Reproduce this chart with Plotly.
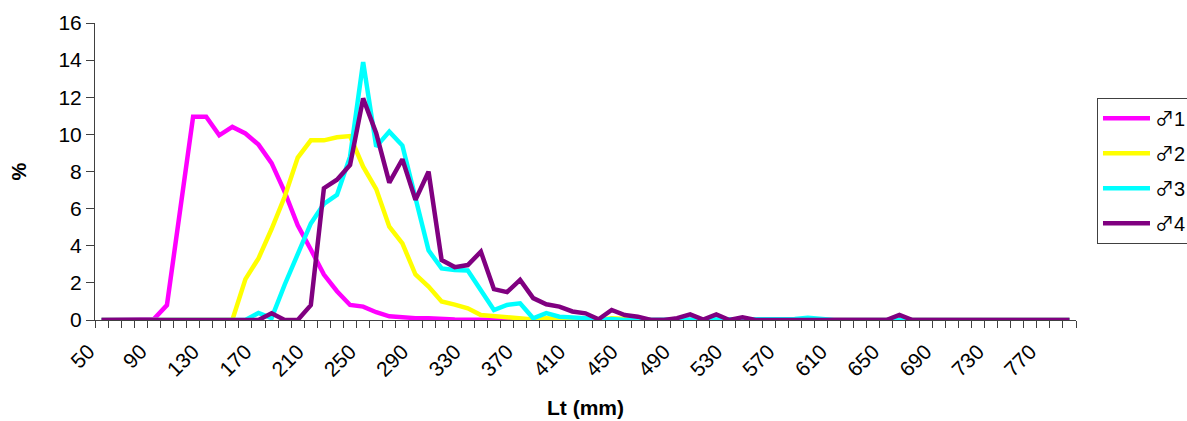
import plotly.graph_objects as go

# Length classes (mm), 50 .. 790 step 10
lengths = list(range(50, 800, 10))

m1 = [0, 0, 0, 0, 0.05, 0.8, 5.9, 10.95, 10.95, 9.95,
      10.4, 10.05, 9.45, 8.45, 6.9, 5.1, 3.8, 2.45, 1.55, 0.81,
      0.72, 0.42, 0.2, 0.12, 0.1, 0.1, 0.05, 0.03, 0.02, 0.02,
      0.02, 0.02, 0.02, 0.01, 0, 0, 0, 0, 0, 0,
      0, 0, 0, 0, 0, 0, 0, 0, 0, 0,
      0, 0, 0, 0, 0, 0, 0, 0, 0, 0,
      0, 0, 0, 0, 0, 0, 0, 0, 0, 0,
      0, 0, 0, 0, 0]

m2 = [0, 0, 0, 0, 0, 0, 0, 0, 0, 0,
      0, 2.2, 3.32, 4.9, 6.64, 8.75, 9.68, 9.68, 9.84, 9.91,
      8.26, 7.05, 5.03, 4.13, 2.45, 1.8, 1.0, 0.83, 0.63, 0.27,
      0.22, 0.12, 0.12, 0.03, 0.1, 0.02, 0, 0, 0, 0.1,
      0.05, 0, 0, 0, 0, 0, 0, 0, 0, 0,
      0, 0, 0, 0, 0, 0, 0, 0, 0, 0,
      0, 0, 0, 0, 0, 0, 0, 0, 0, 0,
      0, 0, 0, 0, 0]

m3 = [0, 0, 0, 0, 0, 0, 0, 0, 0, 0,
      0, 0, 0.38, 0.1, 1.9, 3.5, 5.2, 6.25, 6.74, 8.8,
      13.9, 9.34, 10.15, 9.4, 6.6, 3.75, 2.78, 2.69, 2.67, 1.62,
      0.54, 0.81, 0.9, 0.09, 0.37, 0.18, 0.16, 0.1, 0, 0.05,
      0, 0, 0, 0, 0, 0.05, 0, 0.05, 0, 0,
      0, 0, 0, 0.05, 0.12, 0.05, 0, 0, 0, 0,
      0, 0.05, 0, 0, 0, 0, 0, 0, 0, 0,
      0, 0, 0, 0, 0]

m4 = [0, 0, 0, 0, 0, 0, 0, 0, 0, 0,
      0, 0, 0, 0.36, 0, 0, 0.8, 7.1, 7.56, 8.35,
      11.94, 10.06, 7.4, 8.66, 6.47, 7.99, 3.23, 2.85, 2.96, 3.68,
      1.66, 1.5, 2.16, 1.18, 0.85, 0.72, 0.46, 0.36, 0.04, 0.54,
      0.27, 0.18, 0, 0, 0.1, 0.3, 0.02, 0.3, 0, 0.15,
      0, 0, 0, 0, 0, 0, 0, 0, 0, 0,
      0, 0.27, 0, 0, 0, 0, 0, 0, 0, 0,
      0, 0, 0, 0, 0]

series_numbers = ["1", "2", "3", "4"]
series_values = [m1, m2, m3, m4]
series_colors = ["#FF00FF", "#FFFF00", "#00FFFF", "#800080"]

tick_values = list(range(50, 780, 40))
tick_labels = [str(v) for v in tick_values]

MALE = "<span style='font-family:Noto Sans CJK JP;font-size:19px'>♂</span>"

fig = go.Figure()
for i, (num, vals, col) in enumerate(zip(series_numbers, series_values, series_colors)):
    fig.add_trace(go.Scatter(
        x=lengths, y=vals, name=MALE + num, mode="lines",
        line=dict(color=col, width=4.5),
        legendgroup=f"g{i}",
    ))

FONT = "Liberation Sans, Arial, DejaVu Sans, sans-serif"
fig.update_layout(
    width=1187, height=421,
    margin=dict(l=95, r=111, t=23, b=101, autoexpand=False),
    paper_bgcolor="white", plot_bgcolor="white",
    font=dict(family=FONT, size=21, color="black"),
    showlegend=True,
    legend=dict(
        x=1.0214, y=0.748, xanchor="left", yanchor="top",
        bordercolor="#404040", borderwidth=1, bgcolor="white",
        font=dict(size=20, family=FONT),
        tracegroupgap=6, itemwidth=47,
    ),
    xaxis=dict(
        range=[45, 795], showgrid=False, zeroline=False,
        showline=True, linecolor="#404040", linewidth=1,
        tickmode="array", tickvals=tick_values, ticktext=tick_labels,
        ticks="", tickangle=-45, ticklabelshift=-13, ticklabelstandoff=10,
        tickfont=dict(size=21, family=FONT),
        minor=dict(tickmode="linear", tick0=45, dtick=10, ticks="outside",
                   ticklen=7, tickcolor="#404040", tickwidth=1, showgrid=False),
        title=dict(text="<b>Lt (mm)</b>", font=dict(size=21, family=FONT), standoff=20),
    ),
    yaxis=dict(
        range=[0, 16], dtick=2, showgrid=False, zeroline=False,
        showline=True, linecolor="#404040", linewidth=1,
        ticks="outside", ticklen=8, tickcolor="#404040",
        tickfont=dict(size=21, family=FONT),
        title=dict(text="<b>%</b>", font=dict(size=20, family=FONT), standoff=26),
    ),
)

fig.write_html("out.html", config={"displayModeBar": False},
               post_script="document.body.style.margin='0';")
